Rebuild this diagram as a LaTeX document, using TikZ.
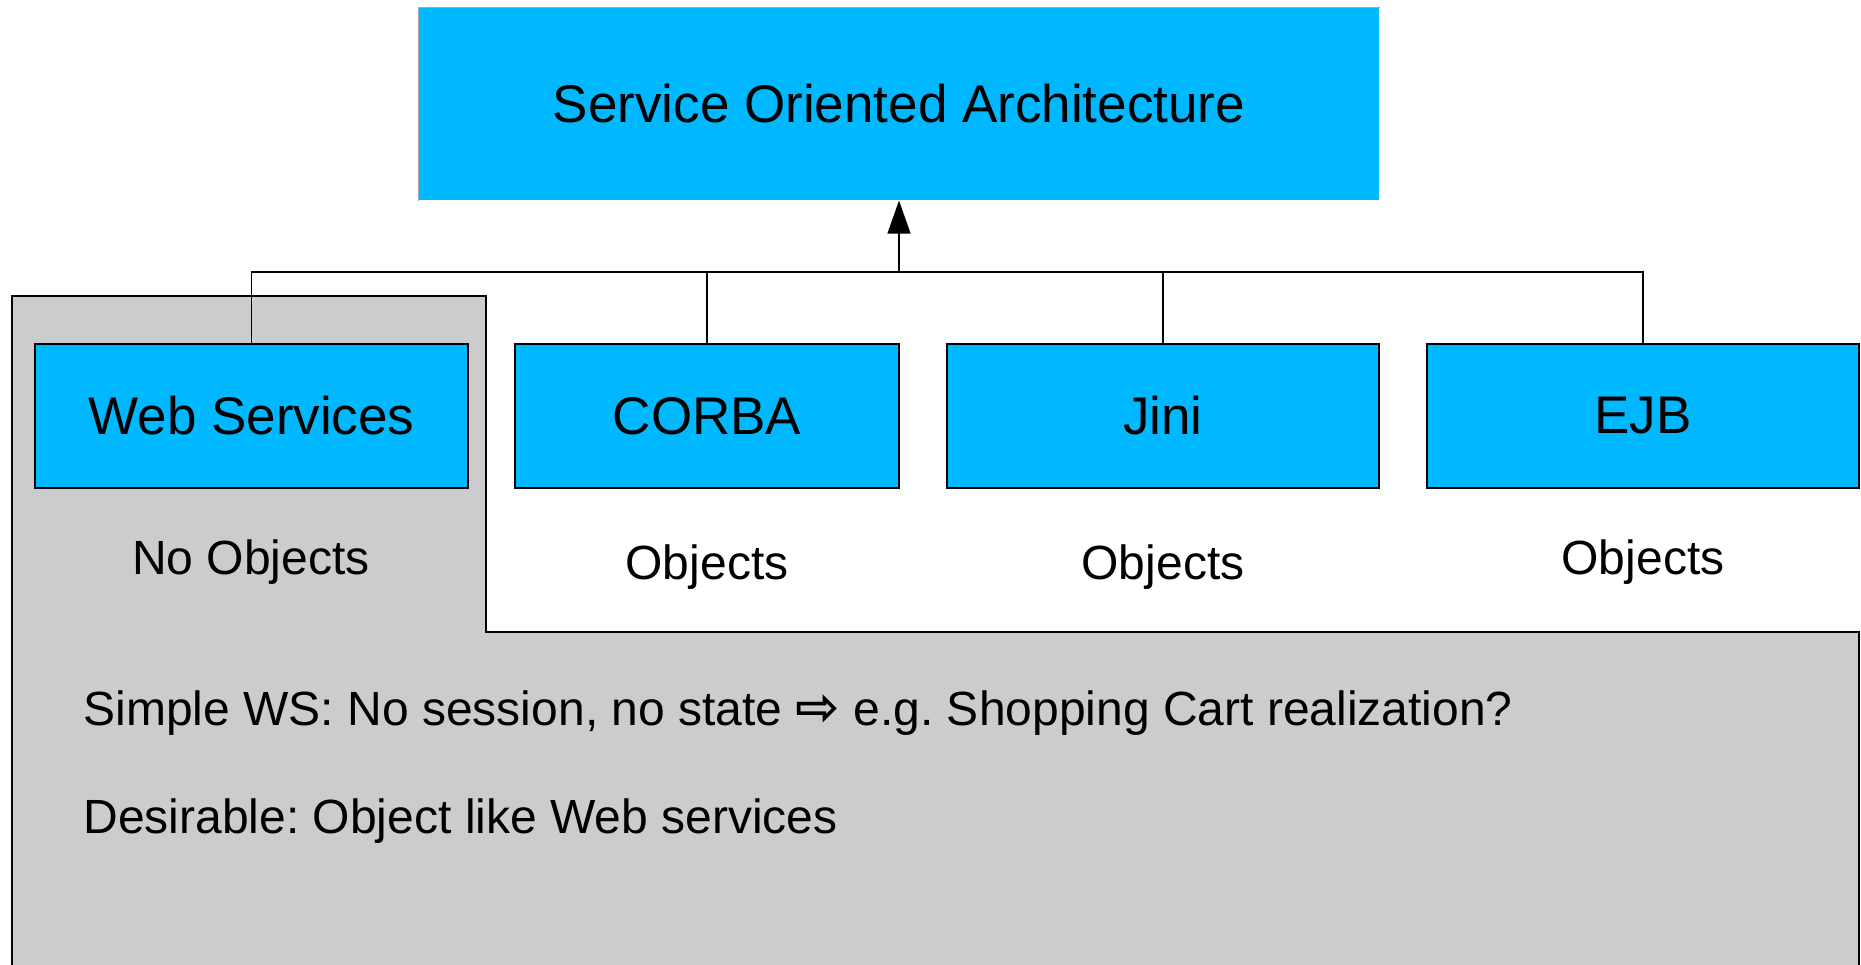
\documentclass[tikz,border=0pt]{standalone}
\usepackage{fontspec}
\setmainfont{Liberation Sans}
\newfontfamily\arrowfont{DejaVu Sans}
\usepackage{tikz}
\usetikzlibrary{arrows.meta}
\definecolor{boxblue}{RGB}{0,184,255}
\definecolor{panelgray}{RGB}{204,204,204}
\frenchspacing

\begin{document}
\begin{tikzpicture}[x=1pt, y=-1pt, line width=1.2pt,
    box/.style={draw, fill=boxblue, minimum height=144pt, inner sep=0pt,
      font=\fontsize{53}{60}\selectfont},
    note/.style={inner sep=0pt, font=\fontsize{48}{56}\selectfont}]
          \useasboundingbox (0,0) rectangle (1861,965);

          % grey panel behind Web Services
          \fill[panelgray] (12,975) -- (12,296) -- (486,296) -- (486,632)
            -- (1859,632) -- (1859,975) -- cycle;
          \draw (12,975) -- (12,296) -- (486,296) -- (486,632)
            -- (1859,632) -- (1859,975);

          \node[box, draw=none, minimum width=960pt, minimum height=192pt](soa) at (899, 104) {Service Oriented Architecture};
          \draw[gray!70, line width=1.5pt] (soa.south west) |- (soa.north east);
          \node[box, minimum width=433pt](ws)    at (251.5, 416) {Web Services};
          \node[box, minimum width=384pt](corba) at (707, 416) {CORBA};
          \node[box, minimum width=432pt](jini)  at (1163, 416) {Jini};
          \node[box, minimum width=432pt](ejb)   at (1643, 416) {EJB};

          \node[note](wsobj)    at (251, 562) {No Objects};
          \node[note](corbaobj) at (707, 567) {Objects};
          \node[note](jiniobj)  at (1163, 567) {Objects};
          \node[note](ejbobj)   at (1643, 562) {Objects};

          \node[note, anchor=west](simple) at (83, 713)
            {Simple WS: No session, no state {\arrowfont\bfseries\fontsize{53}{56}\selectfont ⇨} e.g. Shopping Cart realization?};
          \node[note, anchor=west](desire) at (83, 821) {Desirable: Object like Web services};

          \coordinate (bus) at (899, 272);
          \draw (ws.north) |- (bus) (corba.north) |- (bus);
          \draw (jini.north) |- (bus) (ejb.north) |- (bus);
          \draw[-{Triangle[length=33pt, width=23pt]}] (bus) -- (soa.south);
        \end{tikzpicture}
\end{document}
